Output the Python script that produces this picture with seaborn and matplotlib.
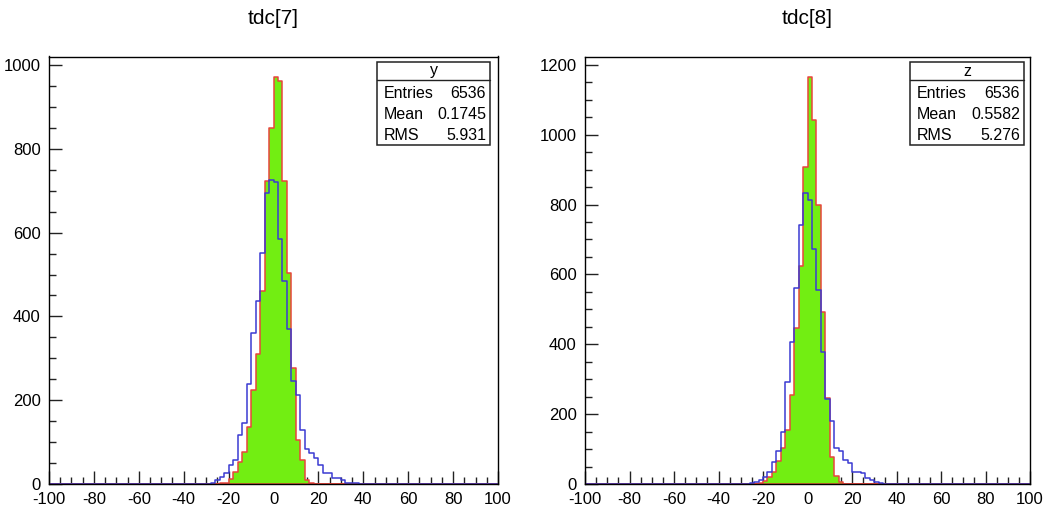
import numpy as np
import pandas as pd
import matplotlib
matplotlib.use("Agg")
import matplotlib.pyplot as plt
from matplotlib.patches import Rectangle
from matplotlib.ticker import MultipleLocator
import seaborn as sns

# ---------------- data ----------------
titles = ["tdc[7]", "tdc[8]"]
stat_names = ["y", "z"]
stat_entries = ["6536", "6536"]
stat_means = ["0.1745", "0.5582"]
stat_rms = ["5.931", "5.276"]

x_low, x_high, bin_width = -100, 100, 2

# tdc[7] : narrow (green/red) histogram, first bin lower edge and counts
red7_start = -26
red7_counts = [1, 2, 3, 12, 30, 54, 77, 137, 224, 311, 461, 722, 848,
               971, 961, 722, 504, 278, 105, 59, 10, 3, 1]
# tdc[7] : wide (blue) histogram
blue7_start = -30
blue7_counts = [1, 4, 10, 18, 28, 46, 58, 117, 145, 240, 360, 437, 552, 694, 726,
                720, 584, 485, 371, 245, 214, 129, 85, 75, 62, 46, 26, 26, 14, 14,
                10, 4, 4, 3, 1, 1]

# tdc[8]
red8_start = -26
red8_counts = [1, 2, 5, 10, 20, 35, 68, 105, 154, 255, 446, 624, 907,
               1165, 1043, 798, 493, 246, 79, 25, 7, 2, 1]
blue8_start = -28
blue8_counts = [1, 3, 7, 12, 21, 36, 65, 96, 150, 293, 407, 560, 741, 833,
                812, 674, 555, 378, 245, 180, 105, 96, 69, 62, 36, 36, 31, 17, 12,
                7, 3, 1]

# ---------------- style ----------------
GREEN = "#72ee12"
RED = "#e8453c"
BLUE = "#3b3bd2"

sns.set_style("ticks")
plt.rcParams["font.family"] = ["Liberation Sans", "DejaVu Sans"]
plt.rcParams["axes.unicode_minus"] = False
plt.rcParams["text.color"] = "black"
plt.rcParams["xtick.color"] = "black"
plt.rcParams["ytick.color"] = "black"
plt.rcParams["xtick.labelcolor"] = "black"
plt.rcParams["ytick.labelcolor"] = "black"

W, H = 1043, 508
fig = plt.figure(figsize=(W / 100, H / 100), dpi=100)


def fx(px):
    return px / W


def fy(py):
    return 1 - py / H


edges = np.arange(x_low, x_high + bin_width, bin_width)
centers = edges[:-1] + bin_width / 2


def full_counts(start, counts):
    out = np.zeros(len(centers))
    i0 = int((start - x_low) / bin_width)
    out[i0:i0 + len(counts)] = counts
    return out


panels = [
    dict(ax_px=(49, 498), red=(red7_start, red7_counts), blue=(blue7_start, blue7_counts),
         box_px=(377, 490)),
    dict(ax_px=(585, 1030), red=(red8_start, red8_counts), blue=(blue8_start, blue8_counts),
         box_px=(910, 1024)),
]

ax_top, ax_bot = 56.5, 484.3

for k, p in enumerate(panels):
    l, r = p["ax_px"]
    ax = fig.add_axes([fx(l), fy(ax_bot), (r - l) / W, (ax_bot - ax_top) / H])

    red_full = full_counts(*p["red"])
    blue_full = full_counts(*p["blue"])
    df = pd.DataFrame({"x": centers, "red": red_full, "blue": blue_full})
    bins = [float(e) for e in edges]

    sns.histplot(data=df, x="x", weights="red", bins=bins, element="step",
                 fill=True, facecolor=GREEN, edgecolor=RED, linewidth=1.1,
                 alpha=1, ax=ax)
    sns.histplot(data=df, x="x", weights="blue", bins=bins, element="step",
                 fill=False, color=BLUE, linewidth=1.1, ax=ax)

    ymax = 1.05 * max(max(p["red"][1]), max(p["blue"][1]))
    ax.set_xlim(x_low, x_high)
    ax.set_ylim(0, ymax)
    ax.set_xlabel("")
    ax.set_ylabel("")

    ax.set_xticks(np.arange(-100, 101, 20))
    ax.xaxis.set_minor_locator(MultipleLocator(5))
    ax.yaxis.set_major_locator(MultipleLocator(200))
    ax.yaxis.set_minor_locator(MultipleLocator(50))
    ax.tick_params(axis="both", which="both", direction="in", top=False,
                   right=False, color="#222222", width=1)
    ax.tick_params(axis="x", which="major", length=9.5, pad=5.5, labelsize=12)
    ax.tick_params(axis="x", which="minor", length=4.8)
    ax.tick_params(axis="y", which="major", length=9.5, pad=6, labelsize=12)
    ax.tick_params(axis="y", which="minor", length=4.8)
    for s in ax.spines.values():
        s.set_visible(True)
        s.set_color("black")
        s.set_linewidth(1)

    # title
    fig.text(fx((l + r) / 2), fy(18), titles[k], ha="center", va="center",
             fontsize=15)

    # stats box
    bx0, bx1 = p["box_px"]
    by0, by1, bsep = 62, 145, 80
    fig.patches.append(Rectangle((fx(bx0), fy(by1)), (bx1 - bx0) / W,
                                 (by1 - by0) / H, transform=fig.transFigure,
                                 facecolor="white", edgecolor="#222222",
                                 linewidth=1.1, zorder=5))
    fig.lines.append(plt.Line2D([fx(bx0), fx(bx1)], [fy(bsep), fy(bsep)],
                                transform=fig.transFigure, color="#222222",
                                linewidth=1, zorder=6))
    fig.text(fx((bx0 + bx1) / 2), fy(71), stat_names[k], ha="center",
             va="center", fontsize=11.5, zorder=7)
    rows = [("Entries", stat_entries[k]), ("Mean", stat_means[k]),
            ("RMS", stat_rms[k])]
    for (lab, val), yy in zip(rows, [93, 114.5, 136]):
        fig.text(fx(bx0 + 7), fy(yy), lab, ha="left", va="center",
                 fontsize=11.5, zorder=7)
        fig.text(fx(bx1 - 4), fy(yy), val, ha="right", va="center",
                 fontsize=11.5, zorder=7)

fig.savefig("out.png", dpi=100)
